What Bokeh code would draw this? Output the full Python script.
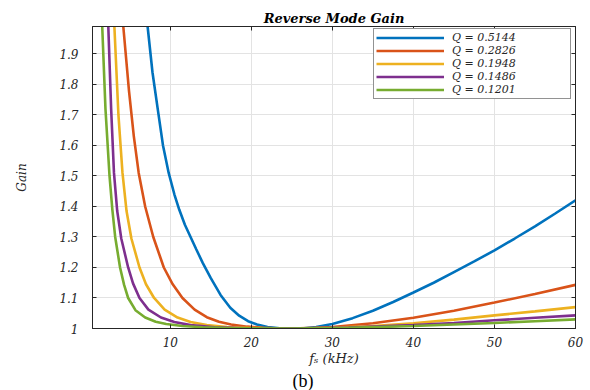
from bokeh.plotting import figure
from bokeh.models import Range1d, FixedTicker, LinearAxis, Legend, LegendItem, Title
from bokeh.embed import file_html
from bokeh.resources import INLINE

# Reverse-mode gain vs switching frequency for five quality factors
q_labels = ["Q = 0.5144", "Q = 0.2826", "Q = 0.1948", "Q = 0.1486", "Q = 0.1201"]
colors = ["#0072BD", "#D95319", "#EDB120", "#7E2F8E", "#77AC30"]

fs_q5144 = [6.3, 7.2, 7.8, 8.5, 9.1, 9.8, 10.5, 11.1, 11.8, 12.5, 13.2, 14.0, 15.0, 16.2,
            17.4, 18.5, 19.6, 20.7, 22.0, 23.5, 25.0, 26.5, 28.0, 30.0, 32.5, 35.0, 37.5,
            40.0, 42.5, 45.0, 47.5, 50.0, 52.5, 55.0, 57.5, 60.0]
gain_q5144 = [2.40, 1.99, 1.84, 1.71, 1.60, 1.51, 1.44, 1.39, 1.34, 1.30, 1.26, 1.215, 1.165, 1.11,
              1.068, 1.042, 1.024, 1.013, 1.005, 1.001, 1.0, 1.001, 1.005, 1.015, 1.034, 1.058, 1.087,
              1.118, 1.15, 1.185, 1.22, 1.256, 1.295, 1.335, 1.377, 1.42]

fs_q2826 = [3.6, 4.2, 4.9, 5.5, 6.1, 6.9, 7.9, 9.2, 10.3, 11.5, 13.0, 14.5, 16.0, 17.5,
            19.5, 21.5, 23.0, 25.0, 28.0, 30.0, 35.0, 40.0, 45.0, 50.0, 55.0, 60.0]
gain_q2826 = [2.35, 1.99, 1.78, 1.63, 1.51, 1.40, 1.30, 1.20, 1.145, 1.10, 1.062, 1.037, 1.022, 1.013,
              1.006, 1.002, 1.0005, 1.0, 1.002, 1.005, 1.017, 1.035, 1.058, 1.085, 1.113, 1.143]

fs_q1948 = [2.7, 3.1, 3.6, 4.1, 4.6, 5.2, 6.2, 7.0, 8.0, 9.3, 10.9, 12.5, 14.5, 17.0,
            20.0, 25.0, 30.0, 35.0, 40.0, 45.0, 50.0, 55.0, 60.0]
gain_q1948 = [2.45, 1.99, 1.70, 1.51, 1.385, 1.295, 1.20, 1.145, 1.10, 1.062, 1.036, 1.021, 1.011, 1.005,
              1.0015, 1.0, 1.002, 1.008, 1.017, 1.029, 1.043, 1.056, 1.07]

fs_q1486 = [2.0, 2.35, 2.7, 3.05, 3.45, 3.95, 4.8, 5.4, 6.2, 7.3, 8.85, 10.5, 12.5, 15.5,
            19.5, 25.0, 32.0, 40.0, 45.0, 50.0, 55.0, 60.0]
gain_q1486 = [2.45, 1.99, 1.72, 1.51, 1.385, 1.295, 1.20, 1.148, 1.10, 1.062, 1.036, 1.021, 1.011, 1.004,
              1.001, 1.0, 1.003, 1.011, 1.018, 1.027, 1.035, 1.043]

fs_q1201 = [1.2, 1.6, 2.0, 2.5, 2.85, 3.2, 3.8, 4.3, 4.8, 5.7, 6.9, 8.2, 9.5, 11.5, 14.0,
            18.0, 25.0, 32.0, 40.0, 45.0, 50.0, 55.0, 60.0]
gain_q1201 = [2.50, 1.99, 1.72, 1.50, 1.39, 1.30, 1.20, 1.143, 1.10, 1.06, 1.036, 1.022, 1.015, 1.008, 1.004,
              1.001, 1.0, 1.002, 1.008, 1.013, 1.018, 1.024, 1.03]

x_ticks = [10, 20, 30, 40, 50, 60]
y_ticks = [1.0, 1.1, 1.2, 1.3, 1.4, 1.5, 1.6, 1.7, 1.8, 1.9]

series = [(fs_q5144, gain_q5144), (fs_q2826, gain_q2826), (fs_q1948, gain_q1948),
          (fs_q1486, gain_q1486), (fs_q1201, gain_q1201)]

SERIF = "DejaVu Serif"
INK = "#262626"

p = figure(width=590, height=390, x_range=Range1d(0.4, 60), y_range=Range1d(1.0, 1.99),
           output_backend="svg", toolbar_location=None,
           min_border_left=92, min_border_right=15, min_border_top=26, min_border_bottom=20)

p.title.text = "Reverse Mode Gain"
p.title.align = "center"
p.title.text_font = SERIF
p.title.text_font_style = "bold italic"
p.title.text_font_size = "13px"
p.title.text_color = "#000000"
p.title.offset = 0
p.title.standoff = 2

# frame, grid
p.outline_line_color = INK
p.outline_line_width = 1
p.background_fill_color = "white"
p.border_fill_color = "white"
p.xgrid.grid_line_color = "#e3e3e3"
p.ygrid.grid_line_color = "#e3e3e3"

xt = FixedTicker(ticks=x_ticks)
yt = FixedTicker(ticks=y_ticks)
p.xaxis.ticker = xt
p.yaxis.ticker = yt
p.xgrid.ticker = xt
p.ygrid.ticker = yt
p.yaxis.major_label_overrides = {1.0: "1"}

for ax in (p.xaxis[0], p.yaxis[0]):
    ax.axis_line_color = INK
    ax.major_tick_line_color = INK
    ax.major_tick_in = 4
    ax.major_tick_out = 0
    ax.minor_tick_line_color = None
    ax.major_label_text_font = SERIF
    ax.major_label_text_font_style = "italic"
    ax.major_label_text_font_size = "12px"
    ax.major_label_text_color = INK
    ax.axis_label_text_font = SERIF
    ax.axis_label_text_font_style = "italic"
    ax.axis_label_text_color = INK

p.xaxis.major_label_standoff = 8
p.xaxis.axis_label = "f\u209B (kHz)"
p.xaxis.axis_label_text_font_size = "13px"
p.xaxis.axis_label_standoff = 1

p.yaxis.major_label_standoff = 14
p.yaxis.axis_label = "Gain"
p.yaxis.axis_label_text_font_size = "12px"
p.yaxis.axis_label_standoff = 27

# tick marks along the top and right edges of the box
for side, tk in (("above", xt), ("right", yt)):
    ax = LinearAxis(ticker=tk, major_label_text_font_size="1px", major_label_text_color=None,
                    major_label_standoff=0, major_tick_in=4, major_tick_out=0,
                    minor_tick_line_color=None, axis_line_color=INK, major_tick_line_color=INK)
    p.add_layout(ax, side)

items = []
for (xs, ys), c, lab in zip(series, colors, q_labels):
    r = p.line(xs, ys, line_color=c, line_width=2.6)
    items.append(LegendItem(label=lab, renderers=[r]))

legend = Legend(items=items, location=(281, 229), label_text_font=SERIF,
                label_text_font_style="italic", label_text_font_size="11px",
                label_text_color=INK, glyph_width=68, glyph_height=11, label_height=11,
                label_width=116, label_standoff=8, spacing=0, padding=2, margin=0,
                border_line_color=INK, border_line_width=1, background_fill_alpha=1)
p.add_layout(legend, "center")

# panel tag under the axis label
tag = Title(text="(b)", align="left", offset=200, text_font="Liberation Serif",
            text_font_style="normal", text_font_size="18px", text_color="#000000",
            standoff=0)
p.add_layout(tag, "below")

open("out.html", "w").write(file_html(p, INLINE))
